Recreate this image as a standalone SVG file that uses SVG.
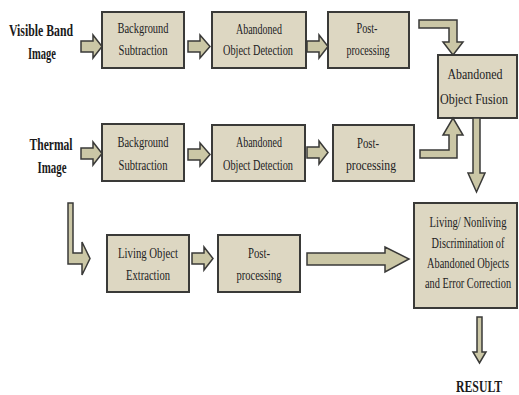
<svg xmlns="http://www.w3.org/2000/svg" width="519" height="395" viewBox="0 0 519 395">
<style>
.box{fill:#ddd7c2;stroke:#3a3a38;stroke-width:2}
.arr{fill:#cbc7a6;stroke:#3a3a38;stroke-width:1.5;stroke-linejoin:miter}
.t{font-family:"Liberation Serif","Times New Roman",serif;font-size:14px;fill:#222222;text-anchor:middle}
.lb{font-family:"Liberation Serif","Times New Roman",serif;font-size:16px;font-weight:bold;fill:#1a1a1a;text-anchor:middle}
</style>
<rect width="519" height="395" fill="#ffffff"/>
<g id="label-visible">
<text class="lb" x="41" y="36" textLength="64" lengthAdjust="spacingAndGlyphs">Visible Band</text>
<text class="lb" x="42" y="59" textLength="28" lengthAdjust="spacingAndGlyphs">Image</text>
</g>
<g id="label-thermal">
<text class="lb" x="51" y="150" textLength="43" lengthAdjust="spacingAndGlyphs">Thermal</text>
<text class="lb" x="52" y="173" textLength="29" lengthAdjust="spacingAndGlyphs">Image</text>
</g>
<g id="bg1">
<rect class="box" x="102" y="12" width="82" height="56"/>
<text class="t" x="143" y="33" textLength="51" lengthAdjust="spacingAndGlyphs">Background</text>
<text class="t" x="143" y="55" textLength="49" lengthAdjust="spacingAndGlyphs">Subtraction</text>
</g>
<g id="aod1">
<rect class="box" x="212" y="12" width="94" height="56"/>
<text class="t" x="259" y="34" textLength="46" lengthAdjust="spacingAndGlyphs">Abandoned</text>
<text class="t" x="258" y="55" textLength="70" lengthAdjust="spacingAndGlyphs">Object Detection</text>
</g>
<g id="post1">
<rect class="box" x="328" y="12" width="81" height="56"/>
<text class="t" x="367" y="33" textLength="21" lengthAdjust="spacingAndGlyphs">Post-</text>
<text class="t" x="368" y="55" textLength="43" lengthAdjust="spacingAndGlyphs">processing</text>
</g>
<g id="fusion">
<rect class="box" x="438" y="55" width="79" height="63"/>
<text class="t" x="475" y="79" textLength="55" lengthAdjust="spacingAndGlyphs">Abandoned</text>
<text class="t" x="474" y="104" textLength="68" lengthAdjust="spacingAndGlyphs">Object Fusion</text>
</g>
<g id="bg2">
<rect class="box" x="102" y="124" width="82" height="57"/>
<text class="t" x="143" y="147" textLength="51" lengthAdjust="spacingAndGlyphs">Background</text>
<text class="t" x="143" y="170" textLength="49" lengthAdjust="spacingAndGlyphs">Subtraction</text>
</g>
<g id="aod2">
<rect class="box" x="212" y="125" width="93" height="56"/>
<text class="t" x="259" y="147" textLength="46" lengthAdjust="spacingAndGlyphs">Abandoned</text>
<text class="t" x="258" y="170" textLength="70" lengthAdjust="spacingAndGlyphs">Object Detection</text>
</g>
<g id="post2">
<rect class="box" x="333" y="125" width="81" height="56"/>
<text class="t" x="368" y="148" textLength="22" lengthAdjust="spacingAndGlyphs">Post-</text>
<text class="t" x="371" y="170" textLength="50" lengthAdjust="spacingAndGlyphs">processing</text>
</g>
<g id="loe">
<rect class="box" x="107" y="235" width="82" height="57"/>
<text class="t" x="148" y="258" textLength="60" lengthAdjust="spacingAndGlyphs">Living Object</text>
<text class="t" x="148" y="280" textLength="44" lengthAdjust="spacingAndGlyphs">Extraction</text>
</g>
<g id="post3">
<rect class="box" x="218" y="235" width="82" height="57"/>
<text class="t" x="259" y="258" textLength="22" lengthAdjust="spacingAndGlyphs">Post-</text>
<text class="t" x="259" y="280" textLength="45" lengthAdjust="spacingAndGlyphs">processing</text>
</g>
<g id="living">
<rect class="box" x="414" y="203" width="103" height="105"/>
<g transform="translate(468 0) scale(0.7 1)">
<text class="t" x="0" y="227" textLength="110" lengthAdjust="spacingAndGlyphs">Living/ Nonliving</text>
<text class="t" x="0" y="248" textLength="104" lengthAdjust="spacingAndGlyphs">Discrimination of</text>
<text class="t" x="0" y="268" textLength="117" lengthAdjust="spacingAndGlyphs">Abandoned Objects</text>
<text class="t" x="0" y="288" textLength="123" lengthAdjust="spacingAndGlyphs">and Error Correction</text>
</g>
</g>
<g id="result">
<text class="lb" x="479" y="392" font-size="15" textLength="46" lengthAdjust="spacingAndGlyphs">RESULT</text>
</g>
<g id="connectors">
<path class="arr" d="M81,41 H93 V35 L102,46.5 L93,58 V52 H81 Z"/>
<path class="arr" d="M188,41 H200 V35 L210,46.5 L200,58 V52 H188 Z"/>
<path class="arr" d="M307,41 H319 V35 L328,46.5 L319,58 V52 H307 Z"/>
<path class="arr" d="M81,148 H93 V142 L102,153.5 L93,165 V159 H81 Z"/>
<path class="arr" d="M188,149 H200 V143 L210,154.5 L200,166 V160 H188 Z"/>
<path class="arr" d="M307,147 H319 V141 L328,152.5 L319,164 V158 H307 Z"/>
<path class="arr" d="M192,253 H204 V247 L213,258.5 L204,270 V264 H192 Z"/>
<path class="arr" d="M419,20 H457 V42 H463 L453,55 L443,42 H449 V28 H419 Z"/>
<path class="arr" d="M420,158 H457 V135 H463 L453,118 L443,135 H449 V150 H420 Z"/>
<path class="arr" d="M473,118 V173 H468 L476.5,192 L485,173 H480 V118 Z"/>
<path class="arr" d="M477,317 V352 H473 L479.5,363 L486,352 H482 V317 Z"/>
<path class="arr" d="M307,253 H385 V247 L409,259 L385,272 V265 H307 Z"/>
<path class="arr" d="M68,203 H73 V253 H82 V242 L90,258.5 L82,275 V264 H68 Z"/>
</g>
</svg>
